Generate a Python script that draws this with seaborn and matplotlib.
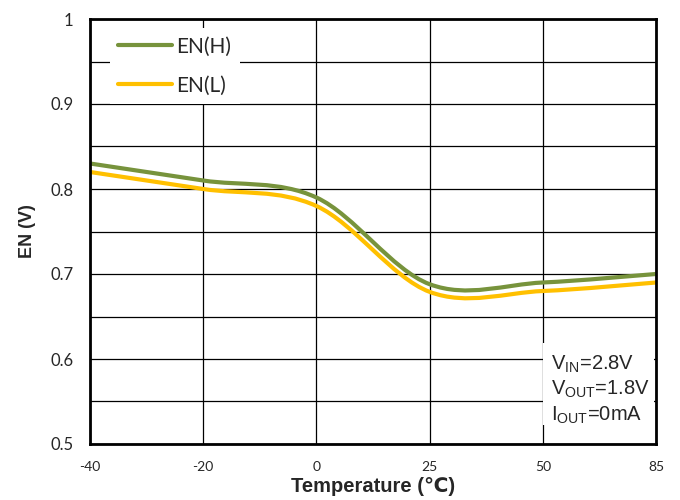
import numpy as np
import seaborn as sns
import matplotlib.pyplot as plt
from matplotlib.path import Path
from matplotlib.patches import PathPatch, Rectangle
from matplotlib.lines import Line2D
from matplotlib.ticker import MultipleLocator

# data
temps = ["-40", "-20", "0", "25", "50", "85"]
en_h = [0.83, 0.81, 0.79, 0.688, 0.69, 0.70]
en_l = [0.82, 0.80, 0.78, 0.679, 0.68, 0.69]
y_ticks = [0.5, 0.6, 0.7, 0.8, 0.9, 1.0]
y_labels = ["0.5", "0.6", "0.7", "0.8", "0.9", "1"]
series = ["EN(H)", "EN(L)"]
conditions = [r"V$_{\mathrm{IN}}$=2.8V", r"V$_{\mathrm{OUT}}$=1.8V", r"I$_{\mathrm{OUT}}$=0mA"]

GREEN = "#77933C"
YELLOW = "#FFC000"

sns.set_style("white")
plt.rcParams["font.family"] = ["Lato", "DejaVu Sans"]
plt.rcParams["mathtext.fontset"] = "custom"
plt.rcParams["mathtext.rm"] = "Liberation Sans"


def smooth_path(x, y):
    # excel style "smoothed line": cubic bezier through each data point
    pts = np.column_stack([x, y]).astype(float)
    ext = np.vstack([pts[0], pts, pts[-1]])
    verts = [pts[0]]
    codes = [Path.MOVETO]
    for i in range(len(pts) - 1):
        p0, p1, p2, p3 = ext[i], ext[i + 1], ext[i + 2], ext[i + 3]
        verts += [p1 + (p2 - p0) / 6, p2 - (p3 - p1) / 6, p2]
        codes += [Path.CURVE4] * 3
    return Path(verts, codes)


fig, ax = plt.subplots(figsize=(6.8, 5), dpi=100)
fig.subplots_adjust(left=0.1324, right=0.9647, top=0.962, bottom=0.112)

pos = np.arange(len(temps))
for vals, color in zip([en_h, en_l], [GREEN, YELLOW]):
    ax.add_patch(PathPatch(smooth_path(pos, vals), fill=False, edgecolor=color,
                           lw=3, capstyle="butt", zorder=3))

ax.set_xlim(0, len(temps) - 1)
ax.set_ylim(0.5, 1.0)
ax.set_xticks(pos, temps)
ax.set_yticks(y_ticks, y_labels)
ax.yaxis.set_minor_locator(MultipleLocator(0.05))
ax.grid(True, which="both", color="black", lw=0.9)
ax.set_axisbelow(True)
ax.tick_params(axis="both", which="both", length=0)
ax.tick_params(axis="x", labelsize=10, pad=12)
ax.tick_params(axis="y", labelsize=12, pad=12)
for sp in ax.spines.values():
    sp.set_visible(True)
    sp.set_color("black")
    sp.set_linewidth(2)
    sp.set_zorder(5)

ax.set_xlabel("Temperature (\u2103)", fontsize=14.5, fontweight="bold",
              family=["Liberation Sans", "DejaVu Sans"], labelpad=3)
ax.set_ylabel("EN (V)", fontsize=13, fontweight="bold",
              family=["Liberation Sans", "DejaVu Sans"], labelpad=10)

handles = [Line2D([], [], color=c, lw=3) for c in [GREEN, YELLOW]]
leg = ax.legend(handles, series, loc="upper left", bbox_to_anchor=(0.035, 0.978),
                borderaxespad=0, fontsize=15, frameon=True, fancybox=False,
                facecolor="white", edgecolor="none", framealpha=1,
                handlelength=2.6, handletextpad=0.2, labelspacing=0.9)
leg.set_zorder(4)

# condition box, lower right
ax.add_patch(Rectangle((0.80, 0.045), 0.196, 0.193, transform=ax.transAxes,
                       facecolor="white", edgecolor="none", zorder=4))
for txt, yb in zip(conditions, [0.176, 0.117, 0.054]):
    ax.text(0.814, yb, txt, transform=ax.transAxes, fontsize=14.5,
            family="Liberation Sans", va="baseline", ha="left", zorder=6)

fig.savefig("out.png", dpi=100)
